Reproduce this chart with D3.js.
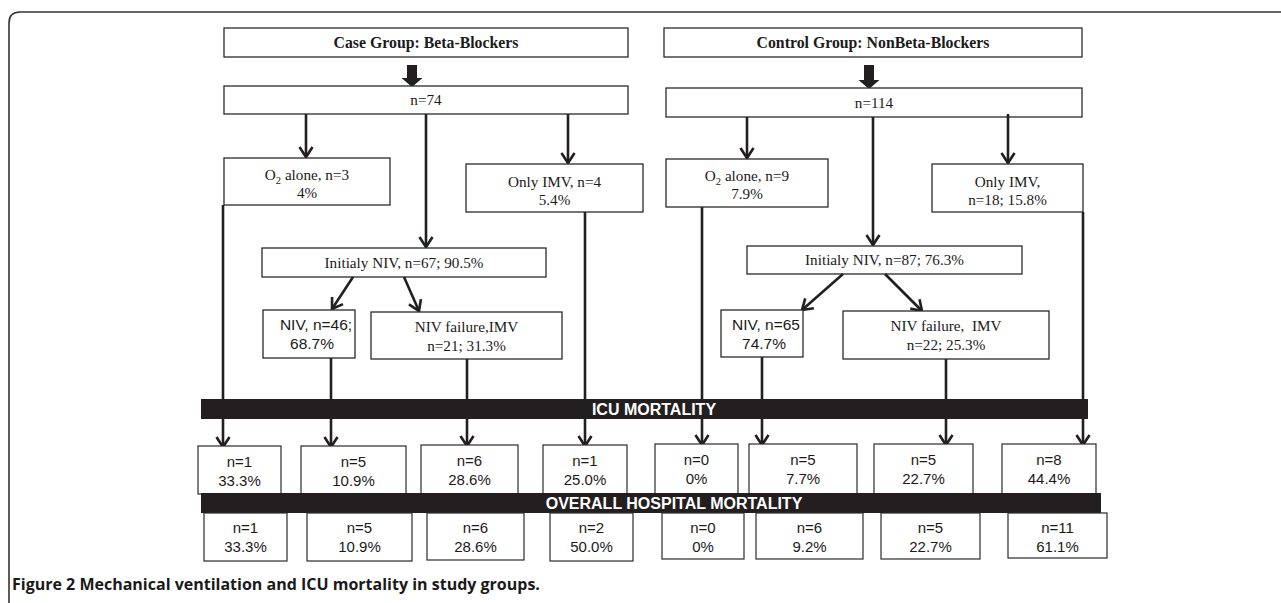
<!DOCTYPE html>
<html>
<head>
<meta charset="utf-8">
<script src="https://cdn.jsdelivr.net/npm/d3@7"></script>
<style>
  html, body { margin: 0; padding: 0; background: #ffffff; }
  svg { display: block; }
</style>
</head>
<body>
<svg id="chart" width="1281" height="603"></svg>
<script>
// ---------------- DATA ----------------
const groupTitles = ["Case Group: Beta-Blockers", "Control Group: NonBeta-Blockers"];
const totalN = [74, 114];
const o2N = [3, 9];
const o2Pct = ["4%", "7.9%"];
const imvN = [4, 18];
const imvPct = ["5.4%", "15.8%"];
const initNivN = [67, 87];
const initNivPct = ["90.5%", "76.3%"];
const nivN = [46, 65];
const nivPct = ["68.7%", "74.7%"];
const failN = [21, 22];
const failPct = ["31.3%", "25.3%"];
const pathways = ["O2 alone", "NIV", "NIV failure, IMV", "Only IMV"];
const icuDeathN = [[1, 5, 6, 1], [0, 5, 5, 8]];
const icuDeathPct = [["33.3%", "10.9%", "28.6%", "25.0%"], ["0%", "7.7%", "22.7%", "44.4%"]];
const hospDeathN = [[1, 5, 6, 2], [0, 6, 5, 11]];
const hospDeathPct = [["33.3%", "10.9%", "28.6%", "50.0%"], ["0%", "9.2%", "22.7%", "61.1%"]];
const barLabels = ["ICU MORTALITY", "OVERALL HOSPITAL MORTALITY"];
const caption = "Figure 2 Mechanical ventilation and ICU mortality in study groups.";

// ---------------- LAYOUT (geometry only) ----------------
const L = [
  { title: [224, 28, 628, 57], thickX: 412, total: [224, 86, 628, 114],
    o2: [224, 158, 390, 205], imv: [466, 164, 643, 212],
    init: [262, 248, 546, 277], niv: [263, 310, 355, 358], fail: [371, 312, 562, 359],
    armO2: [306, 114, 157], armMid: [426, 114, 247], armImv: [568, 114, 163],
    diagL: [353, 277, 332, 309], diagR: [404, 277, 419, 311],
    dropX: [223, 331, 467, 585], dropTop: [205, 358, 359, 212],
    icuBox: [[198, 446, 281, 494], [301, 446, 406, 494], [421, 445, 518, 494], [543, 445, 627, 494]],
    hospBox: [[204, 513, 287, 561], [307, 513, 412, 561], [427, 513, 524, 560], [550, 513, 633, 561]],
    nivText: 316 },
  { title: [664, 28, 1082, 57], thickX: 869, total: [666, 88, 1082, 117],
    o2: [666, 159, 828, 207], imv: [932, 164, 1083, 212],
    init: [747, 246, 1022, 274], niv: [721, 310, 803, 357], fail: [843, 311, 1049, 359],
    armO2: [747, 117, 158], armMid: [873, 117, 245], armImv: [1008, 114, 163],
    diagL: [843, 274, 802, 310], diagR: [885, 274, 922, 311],
    dropX: [702, 762, 946, 1083], dropTop: [207, 357, 359, 212],
    icuBox: [[655, 444, 738, 494], [749, 444, 857, 494], [874, 444, 973, 494], [1002, 444, 1096, 494]],
    hospBox: [[662, 513, 744, 559], [756, 513, 863, 559], [881, 513, 980, 559], [1008, 513, 1107, 558]],
    nivText: 766 }
];
const icuBar = [201, 399, 1088, 419];
const hospBar = [201, 493, 1101, 513];

const SERIF = "'Liberation Serif', 'Times New Roman', serif";
const SANS = "'Liberation Sans', Arial, sans-serif";
const INK = "#231f20";
const FS = 15.2; // serif size

const svg = d3.select("#chart");

// outer frame (top + left with rounded corner)
svg.append("path")
  .attr("d", "M1281,12 H20 Q9,12 9,23 V603")
  .attr("fill", "none").attr("stroke", "#333").attr("stroke-width", 1.6);

function rect(b, sw) {
  svg.append("rect")
    .attr("x", b[0]).attr("y", b[1])
    .attr("width", b[2] - b[0]).attr("height", b[3] - b[1])
    .attr("fill", "#fff").attr("stroke", "#2a2a2a").attr("stroke-width", sw || 1.3);
}
function line(x1, y1, x2, y2, sw) {
  svg.append("line").attr("x1", x1).attr("y1", y1).attr("x2", x2).attr("y2", y2)
    .attr("stroke", INK).attr("stroke-width", sw || 2.6);
}
function arrow(x1, y1, x2, y2) {
  line(x1, y1, x2, y2);
  const dx = x2 - x1, dy = y2 - y1, len = Math.hypot(dx, dy);
  const ux = dx / len, uy = dy / len, a = 33 * Math.PI / 180, h = 12;
  const p = s => {
    const c = Math.cos(s * a), sn = Math.sin(s * a);
    const rx = ux * c - uy * sn, ry = ux * sn + uy * c;
    return [x2 - h * rx, y2 - h * ry];
  };
  const pA = p(1), pB = p(-1);
  svg.append("path")
    .attr("d", `M${pA[0]},${pA[1]} L${x2},${y2} L${pB[0]},${pB[1]}`)
    .attr("fill", "none").attr("stroke", INK).attr("stroke-width", 2.6)
    .attr("stroke-linejoin", "miter");
}
function blockArrow(cx, y0, y1) {
  const hw = 5, hh = 10.5, head = 9;
  svg.append("path")
    .attr("d", `M${cx - hw},${y0} H${cx + hw} V${y1 - head} H${cx + hh} L${cx},${y1} L${cx - hh},${y1 - head} H${cx - hw} Z`)
    .attr("fill", INK);
}
function text(x, y, str, font, size, weight, fill) {
  return svg.append("text")
    .attr("x", x).attr("y", y).attr("dy", "0.35em")
    .attr("text-anchor", "middle")
    .attr("font-family", font).attr("font-size", size)
    .attr("font-weight", weight || "normal")
    .attr("fill", fill || "#1a1a1a")
    .text(str);
}
function o2Text(x, y, n) {
  const t = svg.append("text")
    .attr("x", x).attr("y", y).attr("dy", "0.35em")
    .attr("text-anchor", "middle")
    .attr("font-family", SERIF).attr("font-size", FS).attr("fill", "#1a1a1a");
  t.append("tspan").text("O");
  t.append("tspan").attr("font-size", 10.5).attr("dy", 4).text("2");
  t.append("tspan").attr("dy", -4).text(` alone, n=${n}`);
}
const cx = b => (b[0] + b[2]) / 2;
const cy = b => (b[1] + b[3]) / 2;

L.forEach((g, i) => {
  // title and total boxes
  rect(g.title);
  text(cx(g.title), cy(g.title), groupTitles[i], SERIF, 15.8, "bold");
  blockArrow(g.thickX, 65, g.total[1] + 1);
  rect(g.total);
  text(cx(g.total), cy(g.total), `n=${totalN[i]}`, SERIF, FS);

  // arrows from total
  arrow(g.armO2[0], g.armO2[1], g.armO2[0], g.armO2[2]);
  arrow(g.armMid[0], g.armMid[1], g.armMid[0], g.armMid[2]);
  arrow(g.armImv[0], g.armImv[1], g.armImv[0], g.armImv[2]);

  // drop lines to ICU bar
  g.dropX.forEach((x, k) => line(x, g.dropTop[k], x, icuBar[1] + 2));

  // O2 box
  rect(g.o2);
  o2Text(cx(g.o2), g.o2[1] + 17, o2N[i]);
  text(cx(g.o2), g.o2[1] + 35, o2Pct[i], SERIF, FS);

  // Only IMV box
  rect(g.imv);
  if (i === 0) {
    text(cx(g.imv), g.imv[1] + 18, `Only IMV, n=${imvN[i]}`, SERIF, FS);
    text(cx(g.imv), g.imv[1] + 36, imvPct[i], SERIF, FS);
  } else {
    text(cx(g.imv), g.imv[1] + 18, "Only IMV,", SERIF, FS);
    text(cx(g.imv), g.imv[1] + 36, `n=${imvN[i]}; ${imvPct[i]}`, SERIF, FS);
  }

  // initial NIV
  rect(g.init);
  text(cx(g.init), cy(g.init), `Initialy NIV, n=${initNivN[i]}; ${initNivPct[i]}`, SERIF, FS);
  arrow(g.diagL[0], g.diagL[1], g.diagL[2], g.diagL[3]);
  arrow(g.diagR[0], g.diagR[1], g.diagR[2], g.diagR[3]);

  // NIV box (sans)
  rect(g.niv);
  text(g.nivText, g.niv[1] + 15, i === 0 ? `NIV, n=${nivN[i]};` : `NIV, n=${nivN[i]}`, SANS, 15.5);
  text(cx(g.niv) + (i === 0 ? 3 : 2), g.niv[1] + 34, nivPct[i], SANS, 15.5);

  // NIV failure box (serif)
  rect(g.fail);
  text(cx(g.fail), g.fail[1] + 15, i === 0 ? "NIV failure,IMV" : "NIV failure,  IMV", SERIF, FS)
    .attr("xml:space", "preserve").style("white-space", "pre");
  text(cx(g.fail), g.fail[1] + 34, `n=${failN[i]}; ${failPct[i]}`, SERIF, FS);
});

// ICU mortality bar
svg.append("rect")
  .attr("x", icuBar[0]).attr("y", icuBar[1])
  .attr("width", icuBar[2] - icuBar[0]).attr("height", icuBar[3] - icuBar[1])
  .attr("fill", INK);
text(654, cy(icuBar), barLabels[0], SANS, 16, "bold", "#fff");

// arrows below ICU bar + ICU result boxes
L.forEach((g, i) => {
  g.dropX.forEach((x, k) => {
    arrow(x, icuBar[3], x, g.icuBox[k][1] + 1);
  });
  g.icuBox.forEach((b, k) => {
    rect(b, 1.2);
    text(cx(b), b[1] + 16, `n=${icuDeathN[i][k]}`, SANS, 15);
    text(cx(b), b[1] + 35, icuDeathPct[i][k], SANS, 15);
  });
});

// overall hospital mortality bar
svg.append("rect")
  .attr("x", hospBar[0]).attr("y", hospBar[1])
  .attr("width", hospBar[2] - hospBar[0]).attr("height", hospBar[3] - hospBar[1])
  .attr("fill", INK);
text(674, cy(hospBar), barLabels[1], SANS, 16, "bold", "#fff");

L.forEach((g, i) => {
  g.hospBox.forEach((b, k) => {
    rect(b, 1.2);
    text(cx(b), b[1] + 15, `n=${hospDeathN[i][k]}`, SANS, 15);
    text(cx(b), b[1] + 34, hospDeathPct[i][k], SANS, 15);
  });
});

// caption
svg.append("text")
  .attr("x", 12).attr("y", 590)
  .attr("font-family", "'Open Sans', 'Noto Sans', sans-serif")
  .attr("font-size", 16).attr("font-weight", "bold").attr("fill", "#1a1a1a")
  .text(caption);
</script>
</body>
</html>
